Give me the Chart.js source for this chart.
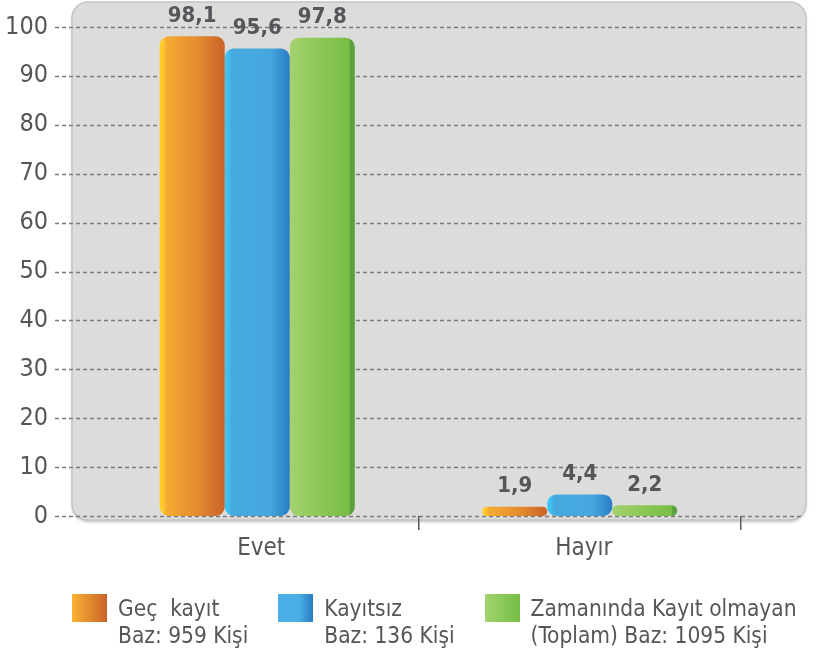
<!DOCTYPE html>
<html>
<head>
<meta charset="utf-8">
<script src="https://cdn.jsdelivr.net/npm/chart.js@4.4.1/dist/chart.umd.min.js"></script>
<style>
  html, body { margin: 0; padding: 0; background: #fff; }
  #wrap { position: relative; width: 819px; height: 656px; }
  #legend { position: absolute; left: 72px; top: 594px; display: flex; gap: 30px;
            font-family: "DejaVu Sans Condensed", "DejaVu Sans", sans-serif; font-size: 22.5px; color: #55565A; }
  .item { display: flex; align-items: flex-start; }
  .sw { width: 35px; height: 28px; margin-right: 11px; flex: none; }
  .txt { line-height: 27px; white-space: pre; margin-top: 1px; }
</style>
</head>
<body>
<div id="wrap">
  <canvas id="myChart" width="819" height="656"></canvas>
  <div id="legend"></div>
</div>
<script>
const categories = ["Evet", "Hayır"];
const geckayit = [98.1, 1.9];
const kayitsiz = [95.6, 4.4];
const zamaninda = [97.8, 2.2];
const yTicks = [0, 10, 20, 30, 40, 50, 60, 70, 80, 90, 100];

const seriesLabels = [
    ["Geç  kayıt", "Baz: 959 Kişi"],
    ["Kayıtsız", "Baz: 136 Kişi"],
    ["Zamanında Kayıt olmayan", "(Toplam) Baz: 1095 Kişi"]
];

// gradient stops across each bar (left -> right)
const barStops = [
    [[0, '#FFD22A'], [0.06, '#FFC62C'], [0.1, '#F5AB34'], [0.6, '#E38A2E'], [1, '#C9622A']],
    [[0, '#3DC6F6'], [0.06, '#3DBFF2'], [0.1, '#47AADF'], [0.7, '#45A7DE'], [1, '#2A7CC3']],
    [[0, '#A3D26F'], [0.5, '#8BC755'], [0.91, '#78BE45'], [0.93, '#5BA142'], [1, '#5BA142']]
];
const swatches = [
    'linear-gradient(90deg,#F9B233,#C9632A)',
    'linear-gradient(90deg,#4AAFE4 60%,#2A7CC3)',
    'linear-gradient(90deg,#A3D26F,#74BF45)'
];

const catPct = 0.605;
const fontCond = '"DejaVu Sans Condensed", "DejaVu Sans", sans-serif';

function barFill(c) {
    const chart = c.chart;
    const xs = chart.scales.x;
    const stops = barStops[c.datasetIndex];
    if (!xs || c.type !== 'data') return stops[2][1];
    const group = xs.width / categories.length * catPct;
    const bw = group / chart.data.datasets.length;
    const left = xs.getPixelForValue(c.dataIndex) - group / 2 + c.datasetIndex * bw;
    if (!isFinite(left) || !isFinite(bw) || bw <= 0) return stops[2][1];
    const g = chart.ctx.createLinearGradient(left, 0, left + bw, 0);
    stops.forEach(s => g.addColorStop(s[0], s[1]));
    return g;
}

// gray rounded panel behind the plot
const panelPlugin = {
    id: 'panel',
    beforeDraw(chart) {
        const { ctx, chartArea } = chart;
        const x = chartArea.left - 24, y = 2, w = chartArea.right + 65 - x, h = chartArea.bottom + 4 - y;
        ctx.save();
        ctx.shadowColor = 'rgba(0,0,0,0.25)';
        ctx.shadowBlur = 3;
        ctx.shadowOffsetY = 2;
        ctx.beginPath();
        ctx.roundRect(x, y, w, h, 16);
        ctx.fillStyle = '#DCDCDB';
        ctx.fill();
        ctx.shadowColor = 'transparent';
        ctx.lineWidth = 1.5;
        ctx.strokeStyle = '#C4C4C4';
        ctx.stroke();
        ctx.restore();
    },
    beforeDatasetsDraw(chart) {
        const { ctx, scales } = chart;
        ctx.save();
        ctx.setLineDash([4, 3]);
        ctx.lineWidth = 1.3;
        ctx.strokeStyle = '#7A7A7A';
        yTicks.forEach(v => {
            const py = Math.round(scales.y.getPixelForValue(v)) + 0.5;
            ctx.beginPath();
            ctx.moveTo(55, py);
            ctx.lineTo(scales.x.right + 62, py);
            ctx.stroke();
        });
        ctx.restore();
    },
    afterDatasetsDraw(chart) {
        const ctx = chart.ctx;
        ctx.save();
        ctx.font = 'bold 22px ' + fontCond;
        ctx.fillStyle = '#55565A';
        ctx.textAlign = 'center';
        ctx.textBaseline = 'middle';
        chart.data.datasets.forEach((ds, i) => {
            chart.getDatasetMeta(i).data.forEach((bar, j) => {
                ctx.fillText(String(ds.data[j]).replace('.', ','), bar.x, bar.y - 20);
            });
        });
        ctx.restore();
    }
};

const barStyle = {
    backgroundColor: barFill,
    categoryPercentage: catPct,
    barPercentage: 1,
    borderRadius: 9,
    borderSkipped: false
};

const ctx = document.getElementById('myChart');
const chart = new Chart(ctx, {
    type: 'bar',
    data: {
        labels: categories,
        datasets: [
            { label: seriesLabels[0], data: geckayit, ...barStyle },
            { label: seriesLabels[1], data: kayitsiz, ...barStyle },
            { label: seriesLabels[2], data: zamaninda, ...barStyle }
        ]
    },
    options: {
        responsive: false,
        animation: false,
        layout: { padding: { left: 0, right: 78, top: 27, bottom: 80 } },
        plugins: {
            legend: { display: false },
            tooltip: { enabled: false },
            colors: { enabled: false }
        },
        scales: {
            x: {
                afterFit(scale) {
                    scale.height = 60;
                    scale.paddingLeft = scale.paddingRight = 0;
                },
                border: { display: false },
                grid: {
                    offset: true,
                    drawOnChartArea: false,
                    drawTicks: true,
                    tickLength: 14,
                    lineWidth: 1.5,
                    color: c => c.index === 0 ? 'rgba(0,0,0,0)' : '#58595B'
                },
                ticks: {
                    labelOffset: 4,
                    padding: 4,
                    color: '#55565A',
                    font: { family: fontCond, size: 24 }
                }
            },
            y: {
                min: 0,
                max: 100,
                afterFit(scale) {
                    scale.width = 96;
                    scale.paddingTop = scale.paddingBottom = 0;
                },
                border: { display: false },
                grid: { display: false, drawTicks: false },
                ticks: {
                    stepSize: 10,
                    padding: 48,
                    color: '#55565A',
                    font: { family: fontCond, size: 25 }
                }
            }
        }
    },
    plugins: [panelPlugin]
});

// html legend built from the datasets
const legend = document.getElementById('legend');
chart.data.datasets.forEach((ds, i) => {
    const item = document.createElement('div');
    item.className = 'item';
    const sw = document.createElement('div');
    sw.className = 'sw';
    sw.style.background = swatches[i];
    const txt = document.createElement('div');
    txt.className = 'txt';
    txt.textContent = ds.label.join('\n');
    item.appendChild(sw);
    item.appendChild(txt);
    legend.appendChild(item);
});
</script>
</body>
</html>
